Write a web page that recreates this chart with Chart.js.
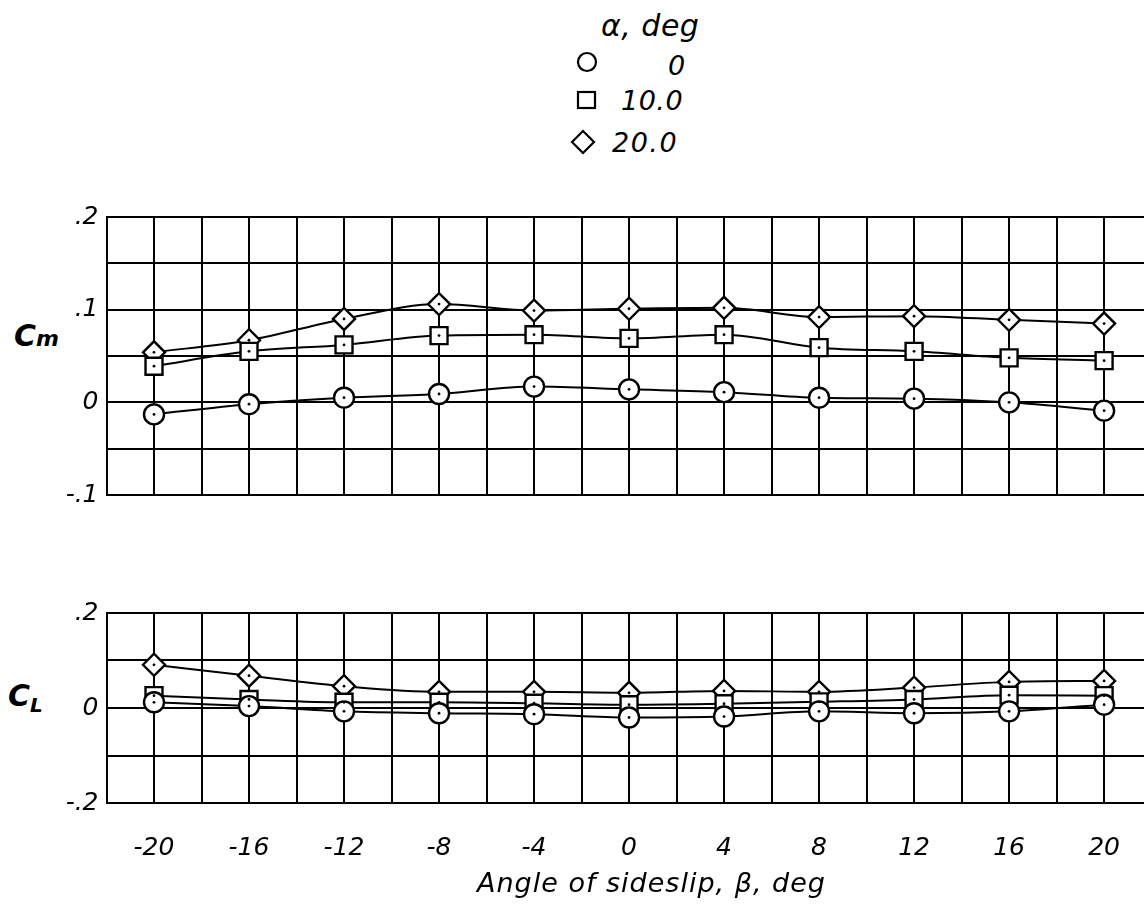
<!DOCTYPE html>
<html>
<head>
<meta charset="utf-8">
<script src="https://cdn.jsdelivr.net/npm/chart.js@4/dist/chart.umd.min.js"></script>
<style>
  body { margin: 0; background: #fff; width: 1144px; height: 905px; position: relative; overflow: hidden; }
  canvas { position: absolute; left: 0; }
  .lbl { position: absolute; font-family: "DejaVu Sans", sans-serif; font-style: italic; color: #000; white-space: nowrap; }
</style>
</head>
<body>

<div class="lbl" style="left:601px; top:8px; font-size:30px; letter-spacing:0.5px;">α, deg</div>
<svg style="position:absolute; left:570px; top:48px;" width="40" height="110">
  <circle cx="17" cy="14" r="9" fill="none" stroke="#000" stroke-width="2.2"/>
  <rect x="8" y="44" width="17" height="16" fill="none" stroke="#000" stroke-width="2.2"/>
  <polygon points="13,83 24,94 13,105 2,94" fill="none" stroke="#000" stroke-width="2.2"/>
</svg>
<div class="lbl" style="left:668px; top:50px; font-size:27px;">0</div>
<div class="lbl" style="left:621px; top:85px; font-size:27px; letter-spacing:0.5px;">10.0</div>
<div class="lbl" style="left:612px; top:127px; font-size:27px; letter-spacing:1.5px;">20.0</div>

<div class="lbl" style="left:14px; top:318px; font-size:30px; font-weight:bold;">C<span style="font-size:22px;">m</span></div>
<div class="lbl" style="left:8px; top:678px; font-size:30px; font-weight:bold;">C<span style="font-size:20px; position:relative; top:6px;">L</span></div>

<canvas id="cmChart" width="1144" height="330" style="top:190px;"></canvas>
<canvas id="clChart" width="1144" height="315" style="top:590px;"></canvas>

<div class="lbl" style="left:477px; top:867px; font-size:27px; letter-spacing:1px;">Angle of sideslip, β, deg</div>

<script>
// sideslip angles (deg)
const beta = [-20, -16, -12, -8, -4, 0, 4, 8, 12, 16, 20];

// pitching moment Cm, by angle of attack
const cmAlpha0  = [-0.013, -0.002, 0.005, 0.009, 0.017, 0.014, 0.011, 0.005, 0.004, 0.000, -0.009];
const cmAlpha10 = [0.039, 0.055, 0.062, 0.072, 0.073, 0.069, 0.073, 0.059, 0.055, 0.048, 0.045];
const cmAlpha20 = [0.054, 0.067, 0.090, 0.106, 0.099, 0.101, 0.102, 0.092, 0.093, 0.089, 0.085];

// lift coefficient CL, by angle of attack
const clAlpha0  = [0.012, 0.004, -0.007, -0.011, -0.013, -0.020, -0.018, -0.007, -0.011, -0.007, 0.007];
const clAlpha10 = [0.026, 0.018, 0.012, 0.012, 0.010, 0.007, 0.009, 0.013, 0.018, 0.027, 0.026];
const clAlpha20 = [0.091, 0.068, 0.046, 0.034, 0.034, 0.032, 0.036, 0.034, 0.043, 0.055, 0.057];

const xTickValues = [-20, -16, -12, -8, -4, 0, 4, 8, 12, 16, 20];
const xTickLabels = ['-20', '-16', '-12', '-8', '-4', '0', '4', '8', '12', '16', '20'];
const cmTickValues = [0.2, 0.1, 0, -0.1];
const cmTickLabels = ['.2', '.1', '0', '-.1'];
const clTickValues = [0.2, 0, -0.2];
const clTickLabels = ['.2', '0', '-.2'];

const labelFont = { family: '"DejaVu Sans", sans-serif', style: 'italic', size: 25 };

function pickLabel(values, labels, v) {
  const i = values.findIndex(t => Math.abs(t - v) < 1e-6);
  return i >= 0 ? labels[i] : '';
}

function series(ys, style, radius) {
  return {
    data: beta.map((b, i) => ({ x: b, y: ys[i] })),
    borderColor: '#000',
    borderWidth: 2,
    pointStyle: style,
    pointRadius: radius,
    pointBorderWidth: 2.4,
    pointBackgroundColor: '#fff',
    pointBorderColor: '#000',
    cubicInterpolationMode: 'monotone',
    fill: false
  };
}

// small dot in the middle of each symbol, as on the original plot
const centerDots = {
  id: 'centerDots',
  afterDatasetsDraw(chart) {
    const ctx = chart.ctx;
    ctx.save();
    ctx.fillStyle = '#000';
    chart.data.datasets.forEach((ds, i) => {
      chart.getDatasetMeta(i).data.forEach(pt => {
        ctx.beginPath();
        ctx.arc(pt.x, pt.y, 1.4, 0, Math.PI * 2);
        ctx.fill();
      });
    });
    ctx.restore();
  }
};

function makeChart(id, sets, yMin, yMax, yStep, tickValues, tickLabels, showX, pad) {
  new Chart(document.getElementById(id), {
    type: 'line',
    data: { datasets: sets },
    plugins: [centerDots],
    options: {
      responsive: false,
      animation: false,
      layout: { padding: pad, autoPadding: false },
      plugins: { legend: { display: false }, tooltip: { enabled: false } },
      scales: {
        x: {
          type: 'linear',
          min: -22,
          max: 21.68,
          afterBuildTicks(scale) {
            const t = [];
            for (let v = -22; v <= 20; v += 2) t.push({ value: v });
            scale.ticks = t;
          },
          afterFit(scale) {
            scale.height = showX ? 70 : 0;
            scale.paddingLeft = 0;
            scale.paddingRight = 0;
          },
          grid: { color: '#000', lineWidth: 2, drawTicks: false },
          border: { display: true, color: '#000', width: 2 },
          ticks: {
            display: showX,
            autoSkip: false,
            maxRotation: 0,
            padding: 30,
            color: '#000',
            font: labelFont,
            callback: v => pickLabel(xTickValues, xTickLabels, v)
          }
        },
        y: {
          min: yMin,
          max: yMax,
          afterFit(scale) { scale.width = 106.5; },
          grid: { color: '#000', lineWidth: 2, drawTicks: false },
          border: { display: true, color: '#000', width: 2 },
          ticks: {
            stepSize: yStep,
            autoSkip: false,
            padding: 8,
            color: '#000',
            font: labelFont,
            callback: v => pickLabel(tickValues, tickLabels, v)
          }
        }
      }
    }
  });
}

makeChart('cmChart',
  [series(cmAlpha0, 'circle', 10), series(cmAlpha10, 'rect', 12), series(cmAlpha20, 'rectRot', 11)],
  -0.1, 0.2, 0.05, cmTickValues, cmTickLabels, false,
  { top: 27, bottom: 25, left: 0, right: 0 });

makeChart('clChart',
  [series(clAlpha0, 'circle', 10), series(clAlpha10, 'rect', 12), series(clAlpha20, 'rectRot', 11)],
  -0.2, 0.2, 0.1, clTickValues, clTickLabels, true,
  { top: 23, bottom: 32, left: 0, right: 0 });
</script>
</body>
</html>
